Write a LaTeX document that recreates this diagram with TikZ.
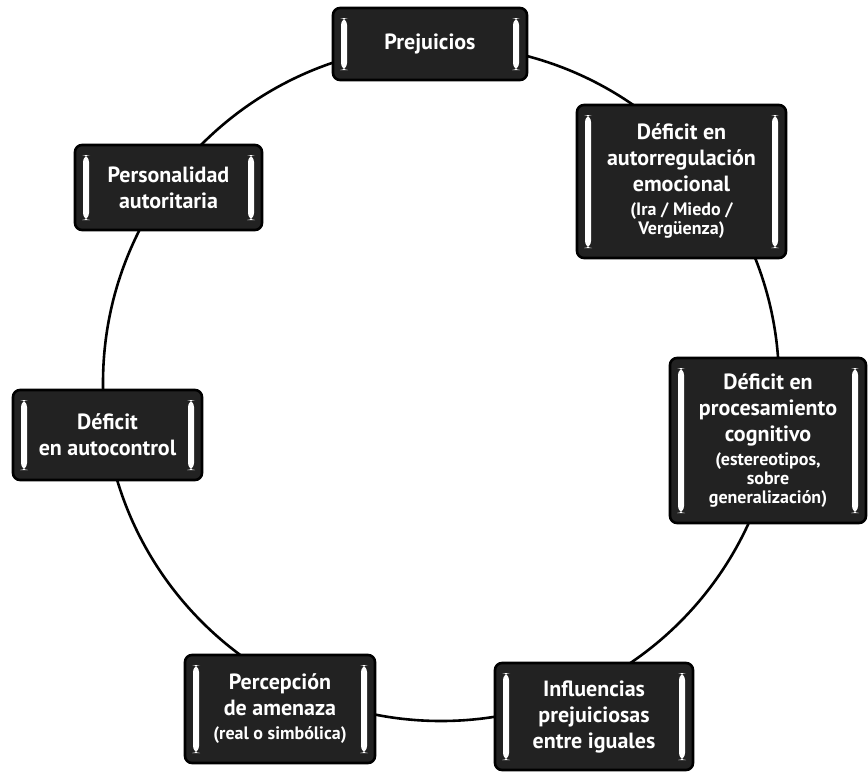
\documentclass[tikz,border=0pt]{standalone}
\usepackage{fontspec}
\setmainfont{PT Sans}
\definecolor{boxfill}{HTML}{222222}
\newcommand{\smalltxt}{\fontsize{18}{19}\selectfont}
\begin{document}
\begin{tikzpicture}[x=1pt,y=-1pt,
  cbox/.style={rectangle, rounded corners=7pt, draw=black, line width=2.6pt,
    fill=boxfill, text=white, align=center, inner sep=0pt,
    font=\bfseries\fontsize{22}{26}\selectfont,
    path picture={
      \fill[white] ([xshift=8pt,yshift=-10pt]path picture bounding box.north west)
        rectangle ([xshift=14pt,yshift=10pt]path picture bounding box.south west);
      \fill[white] ([xshift=-8pt,yshift=-10pt]path picture bounding box.north east)
        rectangle ([xshift=-14pt,yshift=10pt]path picture bounding box.south east);
    }}
]
\useasboundingbox (0,0) rectangle (868,777);
\fill[white] (0,0) rectangle (868,777);
\coordinate (c) at (441,383);
\draw[line width=2.6pt] (c) circle [radius=338pt];

\node[cbox, minimum width=194pt, minimum height=72pt] (prej) at (430,44) {Prejuicios};
\node[cbox, minimum width=209pt, minimum height=153pt] (emoc) at (681.5,181.5)
  {Déficit en\\autorregulación\\emocional\\[-2pt]{\smalltxt (Ira / Miedo /}\\[-7pt]{\smalltxt Vergüenza)}};
\node[cbox, minimum width=196pt, minimum height=165pt] (cogn) at (768,440.5)
  {Déficit en\\procesamiento\\cognitivo\\[-2pt]{\smalltxt (estereotipos,}\\[-7pt]{\smalltxt sobre}\\[-7pt]{\smalltxt generalización)}};
\node[cbox, minimum width=187pt, minimum height=85pt] (pers) at (168.5,187.5)
  {Personalidad\\autoritaria};
\node[cbox, minimum width=189pt, minimum height=90pt] (auto) at (107.5,435)
  {Déficit\\en autocontrol};
\node[cbox, minimum width=190pt, minimum height=108pt] (perc) at (280,709)
  {Percepción\\de amenaza\\[-2pt]{\smalltxt (real o simbólica)}};
\node[cbox, minimum width=198pt, minimum height=107pt] (infl) at (594,716.5)
  {Influencias\\prejuiciosas\\entre iguales};
\end{tikzpicture}
\end{document}
